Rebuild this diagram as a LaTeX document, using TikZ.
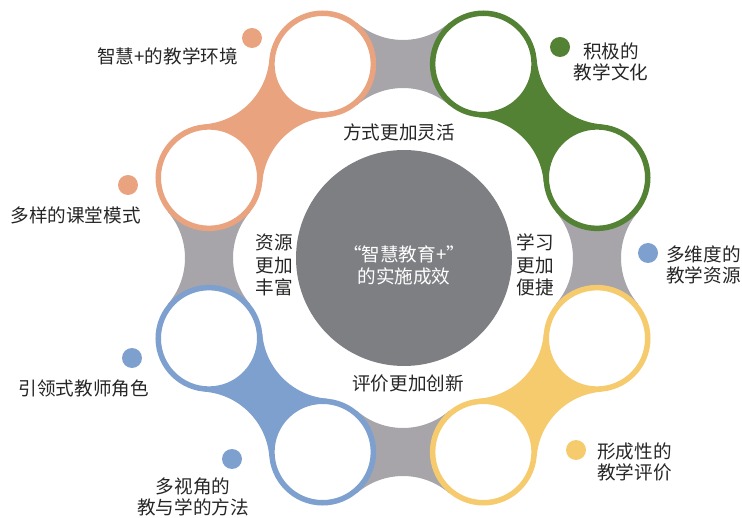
\documentclass[tikz,border=0pt]{standalone}
\usepackage{fontspec}
\newfontfamily\cjk{Noto Sans CJK SC}
\definecolor{corange}{HTML}{E9A37E}
\definecolor{cgreen}{HTML}{548235}
\definecolor{cblue}{HTML}{7DA0CF}
\definecolor{cyellow}{HTML}{F5CB6E}
\definecolor{cgrayc}{HTML}{A7A5AA}
\definecolor{cgraymid}{HTML}{7E7F83}
\newcommand{\linkblob}[2]{%
  \begin{scope}[shift={(403pt,259pt)}, rotate=#1-90]
    \fill[#2] (-80.36pt,194pt) -- (-45.73pt,234.8pt)
      arc[start angle=-130.3, end angle=-49.7, radius=70.7pt]
      -- (80.36pt,194pt) -- (45.73pt,153.2pt)
      arc[start angle=49.7, end angle=130.3, radius=70.7pt] -- cycle;
  \end{scope}}
\tikzset{
  ringnode/.style={circle, draw=#1, line width=5.5pt, fill=white, minimum size=101.5pt, inner sep=0pt},
  dotnode/.style={circle, fill=#1, minimum size=20pt, inner sep=0pt},
  lbl/.style={font=\cjk\fontsize{18.6}{21}\selectfont, inner sep=0pt, text=black!85},
}
\begin{document}
\begin{tikzpicture}[x=1pt,y=1pt]
\useasboundingbox (0,0) rectangle (742,517);
% connectors
\linkblob{90}{cgrayc}
\linkblob{0}{cgrayc}
\linkblob{180}{cgrayc}
\linkblob{270}{cgrayc}
\linkblob{135}{corange}
\linkblob{45}{cgreen}
\linkblob{-45}{cyellow}
\linkblob{-135}{cblue}
% centre
\node[circle, fill=cgraymid, minimum size=216pt, inner sep=0pt] (hub) at (404,259) {};
\node[lbl, text=white, align=center, font=\cjk\fontsize{18.6}{22}\selectfont] (hubtext) at (404,252) {“智慧教育+”\\的实施成效};
% ring circles
\begin{scope}[shift={(403pt,259pt)}]
\node[ringnode=corange] (r1) at (112.5:210pt) {};
\node[ringnode=corange] (r2) at (157.5:210pt) {};
\node[ringnode=cgreen] (r3) at (67.5:210pt) {};
\node[ringnode=cgreen] (r4) at (22.5:210pt) {};
\node[ringnode=cyellow] (r5) at (-22.5:210pt) {};
\node[ringnode=cyellow] (r6) at (-67.5:210pt) {};
\node[ringnode=cblue] (r7) at (-112.5:210pt) {};
\node[ringnode=cblue] (r8) at (-157.5:210pt) {};
\end{scope}
% inner labels
\node[lbl] (t1) at (399,385) {方式更加灵活};
\node[lbl] (t2) at (408,134) {评价更加创新};
\node[lbl, align=center, font=\cjk\fontsize{18.6}{22.5}\selectfont] (t3) at (274,252) {资源\\更加\\丰富};
\node[lbl, align=center, font=\cjk\fontsize{18.6}{22.5}\selectfont] (t4) at (535,252) {学习\\更加\\便捷};
% dots
\node[dotnode=corange] (d1) at (252,479) {};
\node[dotnode=corange] (d2) at (128,332) {};
\node[dotnode=cgreen] (d3) at (560,470) {};
\node[dotnode=cblue] (d4) at (648,264) {};
\node[dotnode=cyellow] (d5) at (576,67) {};
\node[dotnode=cblue] (d6) at (232,58) {};
\node[dotnode=cblue] (d7) at (132,159) {};
% outer labels
\node[lbl, anchor=east] (o1) at (238,461) {智慧+的教学环境};
\node[lbl, anchor=east] (o2) at (141,302) {多样的课堂模式};
\node[lbl, anchor=east] (o3) at (149,129) {引领式教师角色};
\node[lbl, align=center] (o4) at (193,20) {多视角的\\教与学的方法};
\node[lbl, align=center] (o5) at (611,455.5) {积极的\\教学文化};
\node[lbl, align=left, anchor=west] (o6) at (666,252) {多维度的\\教学资源};
\node[lbl, align=left, anchor=west] (o7) at (597,55) {形成性的\\教学评价};
\end{tikzpicture}
\end{document}
